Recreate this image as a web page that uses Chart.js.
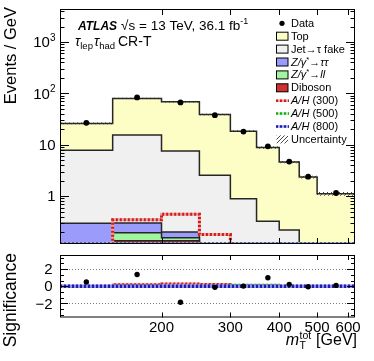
<!DOCTYPE html>
<html>
<head>
<meta charset="utf-8">
<script src="https://cdn.jsdelivr.net/npm/chart.js@4.4.1/dist/chart.umd.min.js"></script>
<style>
  html, body { margin: 0; padding: 0; background: #fff; }
  #wrap { position: relative; width: 374px; height: 361px; }
  canvas { position: absolute; left: 0; }
  #main { top: 0; }
  #ratio { top: 250px; }
</style>
</head>
<body>
<div id="wrap">
  <canvas id="main" width="374" height="250"></canvas>
  <canvas id="ratio" width="374" height="111"></canvas>
</div>
<script>
// ── Datos ─────────────────────────────────────────────────────
const edges = [110, 150, 200, 250, 300, 350, 400, 450, 500, 625];
const dataVals = [26.7, 83.6, 66.7, 37.7, 18.1, 9.35, 4.7, 2.39, 1.15];
const topBkg = [18.2, 64.5, 61.0, 36.4, 17.5, 8.5, 4.38, 2.25, 1.055];
const fakeBkg = [7.5, 15.2, 7.4, 2.44, 0.84, 0.295, 0.2, 0.09, 0.05];
const zttBkg = [0.197, 0.107, 0.045, 0.03, 0.02, 0.012, 0.008, 0.004, 0.002];
const zllBkg = [0.04, 0.057, 0.019, 0.02, 0.01, 0.006, 0.004, 0.002, 0.001];
const dibosonBkg = [0.06, 0.136, 0.136, 0.05, 0.02, 0.012, 0.008, 0.004, 0.002];
const sig300 = [0.02, 0.346, 0.445, 0.179, 0.03, 0.01, 0.005, 0.002, 0.001];
const sig500 = [0.002, 0.004, 0.008, 0.015, 0.03, 0.045, 0.05, 0.04, 0.02];
const sig800 = [0.001, 0.002, 0.003, 0.004, 0.006, 0.008, 0.01, 0.012, 0.015];
const relUnc = [0.04, 0.03, 0.03, 0.035, 0.04, 0.05, 0.05, 0.06, 0.08];
const significance = [0.49, 1.38, -1.87, -0.13, 0.02, 0.99, 0.22, -0.06, 0.1];
const sigSig300 = [0, 0.22, 0.32, 0.25, 0, 0, 0, 0, 0];
const sigSig500 = [0, 0, 0, 0, 0.2, 0.2, 0, 0, 0];
const sigSig800 = [0, 0, 0, 0, 0, 0, 0, 0, 0];
const xTicks = [200, 300, 400, 500, 600];
const yTicksMain = [1, 10, 100, 1000];
const yTicksRatio = [-2, 0, 2];
const X_MIN = 110, X_MAX = 625;
const Y_MIN = 0.117, Y_MAX = 4400;
const R_MIN = -3.65, R_MAX = 3.65;

const FAM = '"Liberation Sans", Arial, Helvetica, sans-serif';
const C = {
  top: '#fdfdc6', fake: '#f0f0f0', ztt: '#9b9bfc', zll: '#a0f5a0', dib: '#cf3030',
  line: '#262626'
};

// ── Utilidades ────────────────────────────────────────────────
const stepPts = vals => vals.map((v, i) => ({ x: edges[i], y: v }))
  .concat([{ x: edges[edges.length - 1], y: vals[vals.length - 1] }]);
const centers = edges.slice(0, -1).map((lo, i) => Math.sqrt(lo * edges[i + 1]));
const clampMin = arr => arr.map(v => Math.max(v, Y_MIN));

let run = dibosonBkg.map(() => 0);
const [cumDib, cumZll, cumZtt, cumFake, cumTop] =
  [dibosonBkg, zllBkg, zttBkg, fakeBkg, topBkg].map(l => (run = run.map((r, i) => r + l[i])));

const pc = document.createElement('canvas');
pc.width = pc.height = 4;
const pctx = pc.getContext('2d');
pctx.strokeStyle = '#333'; pctx.lineWidth = 0.9;
pctx.beginPath(); pctx.moveTo(-1, 5); pctx.lineTo(5, -1); pctx.stroke();
const hatch = pctx.createPattern(pc, 'repeat');

function rich(ctx, x, y, parts, align) {
  let w = 0;
  parts.forEach(p => { ctx.font = p.f; p.w = ctx.measureText(p.t).width; w += p.w + (p.gap || 0); });
  let cx = align === 'right' ? x - w : align === 'center' ? x - w / 2 : x;
  parts.forEach(p => { ctx.font = p.f; ctx.fillText(p.t, cx, y + (p.dy || 0)); cx += p.w + (p.gap || 0); });
}

const histo = (vals, fillCol, order) => ({
  data: stepPts(vals), stepped: true, fill: 'start', backgroundColor: fillCol,
  borderColor: C.line, borderWidth: 1.5, pointRadius: 0, order
});
const dotted = (pts, light, dark, order, w) => [
  { data: pts, stepped: true, fill: false, borderColor: light, borderWidth: w, pointRadius: 0, order: order + 0.5 },
  { data: pts, stepped: true, fill: false, borderColor: dark, borderWidth: w, borderDash: [2, 2], pointRadius: 0, order }
];

// ── Panel superior ────────────────────────────────────────────
const mainDeco = {
  id: 'mainDeco',
  afterDraw(chart) {
    const { ctx, chartArea: ca } = chart;
    const xs = chart.scales.x, ys = chart.scales.y;
    ctx.save();
    ctx.strokeStyle = '#000'; ctx.lineWidth = 1;
    ctx.strokeRect(ca.left + 0.5, ca.top + 0.5, ca.right - ca.left - 1, ca.bottom - ca.top - 1);
    ctx.beginPath();
    for (let e = -1; e <= 3; e++) for (let m = 1; m <= 9; m++) {
      const v = m * Math.pow(10, e);
      if (v < Y_MIN || v > Y_MAX) continue;
      const y = Math.round(ys.getPixelForValue(v)) + 0.5, len = m === 1 ? 9 : 4.5;
      ctx.moveTo(ca.left, y); ctx.lineTo(ca.left + len, y);
      ctx.moveTo(ca.right, y); ctx.lineTo(ca.right - len, y);
    }
    xTicks.forEach(v => {
      const x = Math.round(xs.getPixelForValue(v)) + 0.5;
      ctx.moveTo(x, ca.bottom); ctx.lineTo(x, ca.bottom - 6);
      ctx.moveTo(x, ca.top); ctx.lineTo(x, ca.top + 6);
    });
    ctx.stroke();

    ctx.fillStyle = '#000';
    ctx.textBaseline = 'middle';
    const lf = '15px ' + FAM, sf = '10px ' + FAM;
    yTicksMain.forEach(v => {
      const y = ys.getPixelForValue(v) + 1;
      const e = Math.round(Math.log10(v));
      const parts = v === 1 ? [{ t: '1', f: lf }] : v === 10 ? [{ t: '10', f: lf }]
        : [{ t: '10', f: lf }, { t: String(e), f: sf, dy: -5 }];
      rich(ctx, 55.5, y, parts, 'right');
    });

    ctx.textBaseline = 'alphabetic';
    ctx.save();
    ctx.translate(15.5, 7); ctx.rotate(-Math.PI / 2);
    ctx.textAlign = 'right'; ctx.font = '16.5px ' + FAM;
    ctx.fillText('Events / GeV', 0, 0);
    ctx.restore();

    // ATLAS
    rich(ctx, 78, 30, [
      { t: 'ATLAS', f: 'italic bold 12px ' + FAM, gap: 4 },
      { t: '\u221As = 13 TeV, 36.1 fb', f: '13.5px ' + FAM },
      { t: '-1', f: '9px ' + FAM, dy: -6 }
    ]);
    rich(ctx, 75, 46, [
      { t: '\u03C4', f: 'italic 14px ' + FAM },
      { t: 'lep', f: '9.5px ' + FAM, dy: 3, gap: 1 },
      { t: '\u03C4', f: 'italic 14px ' + FAM },
      { t: 'had', f: '9.5px ' + FAM, dy: 3, gap: 3 },
      { t: 'CR-T', f: '14px ' + FAM }
    ]);

    // Leyenda
    const f = '11px ' + FAM, fi = 'italic 11px ' + FAM, fs = '7.5px ' + FAM;
    const rowY = i => 23.3 + 12.9 * i;
    const tx = 291;
    const box = (i, col) => {
      const y = rowY(i);
      ctx.fillStyle = col; ctx.fillRect(276.5, y - 4, 11.5, 8);
      ctx.strokeStyle = '#000'; ctx.lineWidth = 1; ctx.strokeRect(276.5, y - 4, 11.5, 8);
      ctx.fillStyle = '#000';
    };
    const lineSym = (i, light, dark) => {
      const y = rowY(i);
      ctx.lineWidth = 2.5;
      ctx.strokeStyle = light; ctx.setLineDash([]);
      ctx.beginPath(); ctx.moveTo(276, y); ctx.lineTo(289, y); ctx.stroke();
      ctx.strokeStyle = dark; ctx.setLineDash([2, 2]);
      ctx.beginPath(); ctx.moveTo(276, y); ctx.lineTo(289, y); ctx.stroke();
      ctx.setLineDash([]);
    };
    ctx.textBaseline = 'middle';
    ctx.beginPath(); ctx.arc(282, rowY(0), 2.6, 0, Math.PI * 2); ctx.fill();
    rich(ctx, tx, rowY(0) + 0.5, [{ t: 'Data', f }]);
    box(1, C.top); rich(ctx, tx, rowY(1) + 0.5, [{ t: 'Top', f }]);
    box(2, C.fake); rich(ctx, tx, rowY(2) + 0.5, [{ t: 'Jet\u2192\u03C4 fake', f }]);
    box(3, C.ztt); rich(ctx, tx, rowY(3) + 0.5, [
      { t: 'Z/\u03B3', f: fi }, { t: '*', f: fs, dy: -3 }, { t: '\u2192', f }, { t: '\u03C4\u03C4', f: fi }]);
    box(4, C.zll); rich(ctx, tx, rowY(4) + 0.5, [
      { t: 'Z/\u03B3', f: fi }, { t: '*', f: fs, dy: -3 }, { t: '\u2192', f }, { t: 'll', f: fi }]);
    box(5, C.dib); rich(ctx, tx, rowY(5) + 0.5, [{ t: 'Diboson', f }]);
    lineSym(6, '#f2a0a0', '#c81e1e'); rich(ctx, tx, rowY(6) + 0.5, [{ t: 'A/H', f: fi }, { t: ' (300)', f }]);
    lineSym(7, '#a8eaa8', '#1faa1f'); rich(ctx, tx, rowY(7) + 0.5, [{ t: 'A/H', f: fi }, { t: ' (500)', f }]);
    lineSym(8, '#a0a0f2', '#1e1eaa'); rich(ctx, tx, rowY(8) + 0.5, [{ t: 'A/H', f: fi }, { t: ' (800)', f }]);
    ctx.fillStyle = hatch; ctx.fillRect(276.5, rowY(9) - 4, 11.5, 8);
    ctx.fillStyle = '#000'; rich(ctx, tx, rowY(9) + 0.5, [{ t: 'Uncertainty', f }]);
    ctx.restore();
  }
};

const uncUp = cumTop.map((v, i) => v * (1 + relUnc[i]));
const uncDn = cumTop.map((v, i) => v * (1 - relUnc[i]));

new Chart(document.getElementById('main').getContext('2d'), {
  type: 'line',
  data: {
    datasets: [
      { data: centers.map((x, i) => ({ x, y: dataVals[i] })), showLine: false,
        pointRadius: 2.9, pointBackgroundColor: '#000', pointBorderWidth: 0, order: 0 },
      ...dotted(stepPts(clampMin(sig800)), '#a0a0f2', '#1e1eaa', 1, 3),
      ...dotted(stepPts(clampMin(sig500)), '#a8eaa8', '#1faa1f', 2, 3),
      ...dotted(stepPts(clampMin(sig300)), '#f2a0a0', '#c81e1e', 3, 3),
      { data: stepPts(uncUp), stepped: true, fill: '+1', backgroundColor: hatch,
        borderWidth: 0, pointRadius: 0, order: 4 },
      { data: stepPts(uncDn), stepped: true, fill: false, borderWidth: 0, pointRadius: 0, order: 4.1 },
      histo(cumDib, C.dib, 5),
      histo(cumZll, C.zll, 6),
      histo(cumZtt, C.ztt, 7),
      histo(cumFake, C.fake, 8),
      histo(cumTop, C.top, 9)
    ]
  },
  options: {
    responsive: false, animation: false, devicePixelRatio: 1,
    layout: { padding: { left: 60, right: 19, top: 9, bottom: 6 } },
    plugins: { legend: { display: false }, tooltip: { enabled: false } },
    scales: {
      x: { type: 'logarithmic', min: X_MIN, max: X_MAX, display: false },
      y: { type: 'logarithmic', min: Y_MIN, max: Y_MAX, display: false }
    }
  },
  plugins: [mainDeco]
});

// ── Panel de significancia ───────────────────────────────────
const ratioDeco = {
  id: 'ratioDeco',
  beforeDatasetsDraw(chart) {
    const { ctx, chartArea: ca } = chart;
    const ys = chart.scales.y;
    ctx.save();
    ctx.strokeStyle = '#777'; ctx.lineWidth = 1; ctx.setLineDash([1, 2]);
    ctx.beginPath();
    yTicksRatio.forEach(v => {
      const y = Math.round(ys.getPixelForValue(v)) + 0.5;
      ctx.moveTo(ca.left, y); ctx.lineTo(ca.right, y);
    });
    ctx.stroke();
    ctx.restore();
  },
  afterDraw(chart) {
    const { ctx, chartArea: ca } = chart;
    const xs = chart.scales.x, ys = chart.scales.y;
    ctx.save();
    ctx.strokeStyle = '#000'; ctx.lineWidth = 1;
    ctx.strokeRect(ca.left + 0.5, ca.top + 0.5, ca.right - ca.left - 1, ca.bottom - ca.top - 1);
    ctx.beginPath();
    for (let k = -6; k <= 6; k++) {
      const v = k * 2 / 3;
      if (v < R_MIN || v > R_MAX) continue;
      const y = Math.round(ys.getPixelForValue(v)) + 0.5, len = k % 3 === 0 ? 8 : 4;
      ctx.moveTo(ca.left, y); ctx.lineTo(ca.left + len, y);
      ctx.moveTo(ca.right, y); ctx.lineTo(ca.right - len, y);
    }
    xTicks.forEach(v => {
      const x = Math.round(xs.getPixelForValue(v)) + 0.5;
      ctx.moveTo(x, ca.bottom); ctx.lineTo(x, ca.bottom - 5);
      ctx.moveTo(x, ca.top); ctx.lineTo(x, ca.top + 5);
    });
    ctx.stroke();

    ctx.fillStyle = '#000';
    ctx.textBaseline = 'middle';
    ctx.textAlign = 'right';
    ctx.font = '15px ' + FAM;
    yTicksRatio.forEach(v => ctx.fillText(v < 0 ? '\u2212' + (-v) : String(v), 52.5, ys.getPixelForValue(v) + 1));
    ctx.textAlign = 'center';
    xTicks.forEach(v => ctx.fillText(String(v), xs.getPixelForValue(v), 78));

    ctx.textAlign = 'left';
    ctx.textBaseline = 'alphabetic';
    ctx.save();
    ctx.translate(15.5, 3); ctx.rotate(-Math.PI / 2);
    ctx.textAlign = 'right'; ctx.font = '17.5px ' + FAM;
    ctx.fillText('Significance', 0, 0);
    ctx.restore();

    // m_T^tot [GeV]
    const fm = 'italic 16px ' + FAM, fsml = '10.5px ' + FAM, fb = '16px ' + FAM;
    ctx.font = fb; const wg = ctx.measureText(' [GeV]').width;
    ctx.font = fsml; const wtot = ctx.measureText('tot').width, wT = ctx.measureText('T').width;
    ctx.font = fm; const wm = ctx.measureText('m').width;
    let x0 = 357 - wg - Math.max(wtot, wT) - wm - 1;
    const by = 95;
    ctx.font = fm; ctx.fillText('m', x0, by);
    ctx.font = fsml; ctx.fillText('tot', x0 + wm + 0.5, by - 6); ctx.fillText('T', x0 + wm + 0.5, by + 4);
    ctx.font = fb; ctx.fillText(' [GeV]', x0 + wm + 1 + Math.max(wtot, wT), by);
    ctx.restore();
  }
};

new Chart(document.getElementById('ratio').getContext('2d'), {
  type: 'line',
  data: {
    datasets: [
      { data: centers.map((x, i) => ({ x, y: significance[i] })), showLine: false,
        pointRadius: 2.7, pointBackgroundColor: '#000', pointBorderWidth: 0, order: 0 },
      ...dotted(stepPts(sigSig800), '#8c8cf0', '#1e1eaa', 1, 3.5),
      ...dotted(stepPts(sigSig500), '#a8eaa8', '#1faa1f', 2, 1.5),
      ...dotted(stepPts(sigSig300), '#f2a0a0', '#c81e1e', 3, 2)
    ]
  },
  options: {
    responsive: false, animation: false, devicePixelRatio: 1,
    layout: { padding: { left: 60, right: 19, top: 5, bottom: 43.5 } },
    plugins: { legend: { display: false }, tooltip: { enabled: false } },
    scales: {
      x: { type: 'logarithmic', min: X_MIN, max: X_MAX, display: false },
      y: { type: 'linear', min: R_MIN, max: R_MAX, display: false }
    }
  },
  plugins: [ratioDeco]
});
</script>
</body>
</html>
